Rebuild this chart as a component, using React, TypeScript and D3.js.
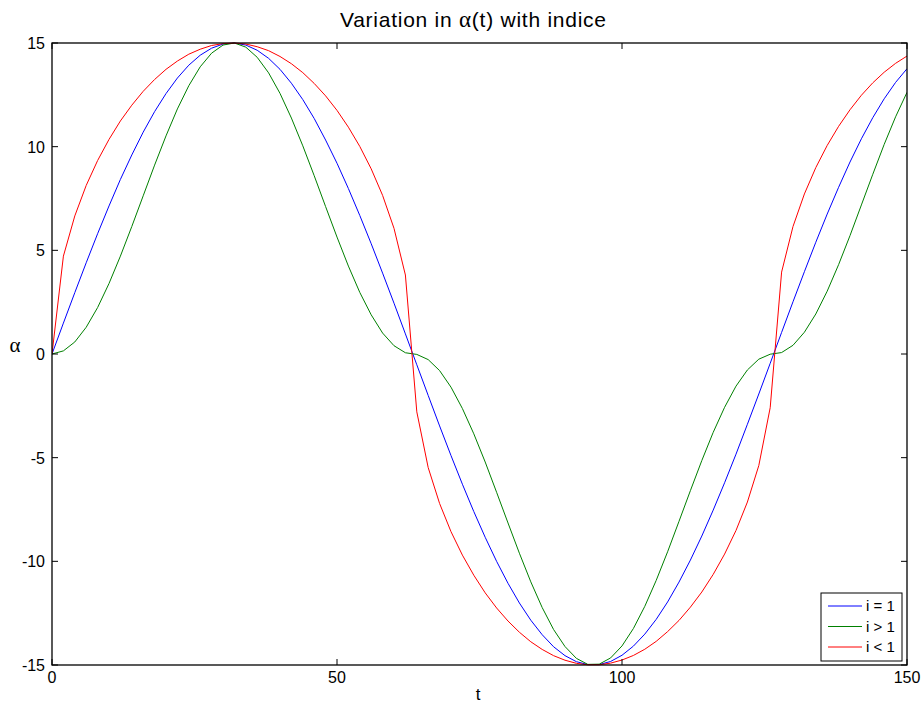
import React from "react"
import * as d3 from "d3"

// sample times (t) and the three curves
const times = [
  0, 2, 4, 6, 8, 10, 12, 14, 16, 18, 20, 22, 24, 26, 28, 30, 32, 34, 36, 38,
  40, 42, 44, 46, 48, 50, 52, 54, 56, 58, 60, 62, 64, 66, 68, 70, 72, 74, 76, 78,
  80, 82, 84, 86, 88, 90, 92, 94, 96, 98, 100, 102, 104, 106, 108, 110, 112, 114, 116, 118,
  120, 122, 124, 126, 128, 130, 132, 134, 136, 138, 140, 142, 144, 146, 148, 150,
]

const alphaEqual = [
  0, 1.49, 2.96, 4.4, 5.8, 7.14, 8.42, 9.6, 10.7, 11.69, 12.56, 13.31, 13.93, 14.41, 14.75, 14.95, 15, 14.9, 14.65, 14.26,
  13.73, 13.06, 12.27, 11.36, 10.32, 9.2, 7.98, 6.68, 5.32, 3.9, 2.45, 0.97, -0.52, -2.0, -3.47, -4.9, -6.28, -7.6, -8.84, -10.0,
  -11.06, -12.01, -12.84, -13.54, -14.12, -14.55, -14.84, -14.98, -14.98, -14.83, -14.53, -14.09, -13.51, -12.8, -11.96, -11.0, -9.94, -8.78, -7.53, -6.21,
  -4.83, -3.39, -1.93, -0.45, 1.04, 2.52, 3.97, 5.39, 6.75, 8.04, 9.26, 10.38, 11.4, 12.31, 13.1, 13.76,
]

const alphaGreater = [
  0, 0.15, 0.58, 1.29, 2.24, 3.4, 4.72, 6.15, 7.63, 9.11, 10.52, 11.82, 12.94, 13.85, 14.51, 14.9, 15, 14.8, 14.31, 13.56,
  12.57, 11.38, 10.04, 8.6, 7.11, 5.64, 4.24, 2.97, 1.89, 1.01, 0.4, 0.06, -0.02, -0.27, -0.8, -1.6, -2.63, -3.85, -5.21, -6.67,
  -8.15, -9.61, -10.99, -12.23, -13.29, -14.11, -14.68, -14.97, -14.96, -14.66, -14.08, -13.24, -12.17, -10.92, -9.54, -8.07, -6.59, -5.14, -3.78, -2.57,
  -1.55, -0.77, -0.25, -0.01, 0.07, 0.42, 1.05, 1.93, 3.03, 4.31, 5.71, 7.19, 8.67, 10.11, 11.44, 12.62,
]

const alphaLess = [
  0, 4.72, 6.66, 8.13, 9.33, 10.35, 11.24, 12.0, 12.67, 13.24, 13.73, 14.13, 14.46, 14.7, 14.88, 14.97, 15, 14.95, 14.82, 14.63,
  14.35, 14.0, 13.57, 13.05, 12.45, 11.75, 10.94, 10.01, 8.93, 7.65, 6.06, 3.81, -2.79, -5.48, -7.21, -8.57, -9.7, -10.67, -11.52, -12.25,
  -12.88, -13.42, -13.88, -14.25, -14.55, -14.77, -14.92, -14.99, -14.99, -14.91, -14.76, -14.54, -14.24, -13.86, -13.39, -12.85, -12.21, -11.48, -10.63, -9.65,
  -8.51, -7.14, -5.38, -2.59, 3.95, 6.15, 7.72, 8.99, 10.06, 10.98, 11.78, 12.48, 13.08, 13.59, 14.02, 14.37,
]

const xTicks = [0, 50, 100, 150]
const yTicks = [-15, -10, -5, 0, 5, 10, 15]
const legendLabels = ["i = 1", "i > 1", "i < 1"]
const colors = ["#0000ff", "#008000", "#ff0000"]

const W = 924
const H = 706
const left = 52
const right = 907
const top = 43
const bottom = 665
const tickLen = 6
const font = "Arial, 'Liberation Sans', sans-serif"
const serif = "'Liberation Serif', 'Times New Roman', serif"

export default function App() {
  const x = d3.scaleLinear().domain([0, 150]).range([left, right])
  const y = d3.scaleLinear().domain([-15, 15]).range([bottom, top])

  const line = d3
    .line<number>()
    .x((d, i) => x(times[i]))
    .y(d => y(d))

  const series = [alphaEqual, alphaGreater, alphaLess]

  return (
    <svg width={W} height={H} style={{ position: "absolute", left: 0, top: 0, background: "#fff" }}>
      <defs>
        <clipPath id="plotClip">
          <rect x={left} y={top - 1} width={right - left} height={bottom - top + 2} />
        </clipPath>
      </defs>
      <rect x={0} y={0} width={W} height={H} fill="#fff" />
      <g clipPath="url(#plotClip)">
        {series.map((s, i) => (
          <path key={i} d={line(s) || ""} fill="none" stroke={colors[i]} strokeWidth={1} />
        ))}
      </g>

      {/* axes box */}
      <rect x={left} y={top} width={right - left} height={bottom - top} fill="none" stroke="#000" strokeWidth={1.3} />

      {xTicks.map(t => (
        <g key={"x" + t}>
          <line x1={x(t)} x2={x(t)} y1={bottom} y2={bottom - tickLen} stroke="#000" />
          <line x1={x(t)} x2={x(t)} y1={top} y2={top + tickLen} stroke="#000" />
          <text x={x(t)} y={683} textAnchor="middle" fontFamily={font} fontSize={16}>
            {t}
          </text>
        </g>
      ))}
      {yTicks.map(t => (
        <g key={"y" + t}>
          <line x1={left} x2={left + tickLen} y1={y(t)} y2={y(t)} stroke="#000" />
          <line x1={right} x2={right - tickLen} y1={y(t)} y2={y(t)} stroke="#000" />
          <text x={45} y={y(t) + 6} textAnchor="end" fontFamily={font} fontSize={16}>
            {t}
          </text>
        </g>
      ))}

      <text x={340} y={27} fontFamily={font} fontSize={21} textLength={266} lengthAdjust="spacing">
        Variation in <tspan fontFamily={serif} fontSize={23}>α</tspan>(t) with indice
      </text>
      <text x={478} y={700} textAnchor="middle" fontFamily={font} fontSize={17}>
        t
      </text>
      <text x={15} y={352} textAnchor="middle" fontFamily={serif} fontSize={21}>
        α
      </text>

      {/* legend */}
      <rect x={821} y={593} width={81} height={68} fill="#fff" stroke="#000" strokeWidth={1} />
      {legendLabels.map((l, i) => (
        <g key={l}>
          <line x1={828} x2={862} y1={606 + i * 20.5} y2={606 + i * 20.5} stroke={colors[i]} strokeWidth={1} />
          <text x={866} y={611 + i * 20.5} fontFamily={font} fontSize={15}>
            {l}
          </text>
        </g>
      ))}
    </svg>
  )
}
